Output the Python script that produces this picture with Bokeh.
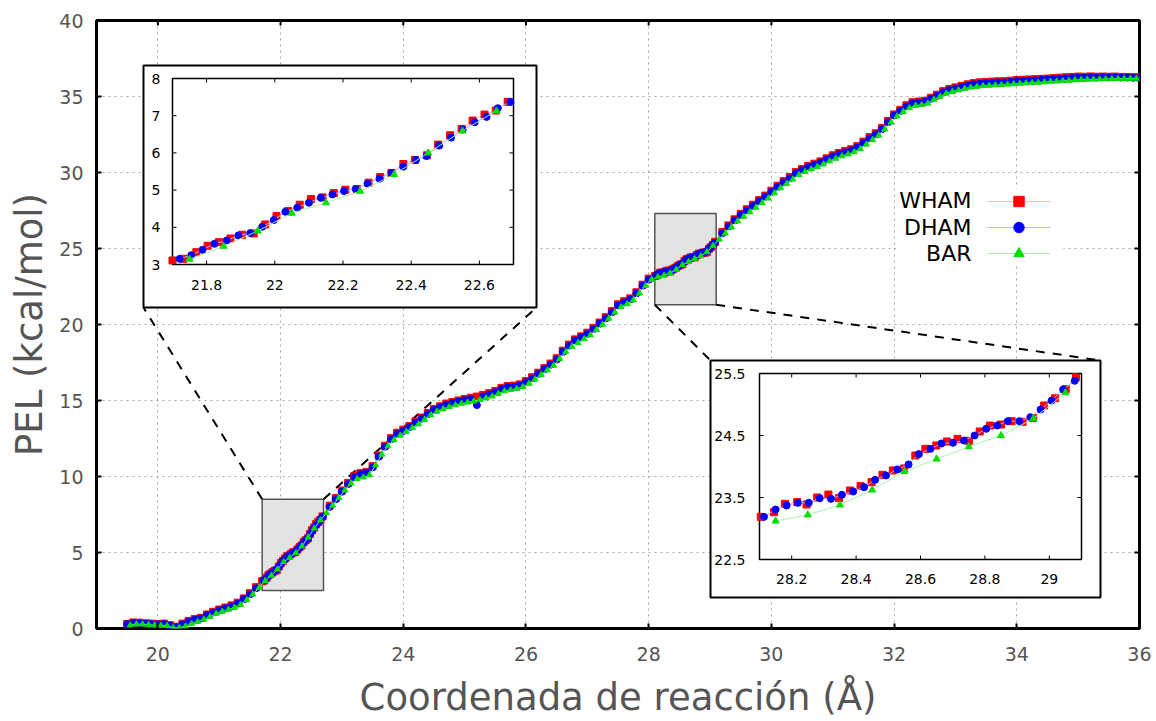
import numpy as np
from bokeh.plotting import figure
from bokeh.models import Range1d, FixedTicker, Legend, LegendItem, Label
from bokeh.core.properties import value
from bokeh.embed import file_html
from bokeh.resources import INLINE

FONT = "DejaVu Sans"

# ------------------------------------------------------------------ data
X_TICKS = [20, 22, 24, 26, 28, 30, 32, 34, 36]
Y_TICKS = [0, 5, 10, 15, 20, 25, 30, 35, 40]

# coarse x grid (outside the two zoomed windows) for WHAM and DHAM
COARSE_X = np.round(np.concatenate([np.arange(19.5, 21.65, 0.1),
                                    np.arange(22.8, 28.05, 0.1),
                                    np.arange(29.2, 36.05, 0.1)]), 2)

WHAM_COARSE = [
    0.30, 0.40, 0.38, 0.34, 0.32, 0.30, 0.32, 0.22, 0.12, 0.32, 0.50, 0.62, 0.70, 0.92, 1.10, 1.25,
    1.38, 1.52, 1.70, 1.98, 2.32, 2.72,
    8.08, 8.58, 9.08, 9.58, 10.02, 10.22, 10.30, 10.68, 11.38, 12.02, 12.52, 12.88, 13.08, 13.32,
    13.62, 13.88, 14.18, 14.45, 14.62, 14.80, 14.90, 15.00, 15.10, 15.18, 15.26, 15.36, 15.48,
    15.63, 15.83, 15.95, 15.98, 16.06, 16.28, 16.53, 16.83, 17.13, 17.43, 17.78, 18.28, 18.68,
    19.02, 19.22, 19.46, 19.78, 20.13, 20.48, 20.88, 21.33, 21.53, 21.72, 22.12, 22.62, 23.02,
    26.08, 26.52, 26.92, 27.28, 27.58, 27.88, 28.18, 28.48, 28.80, 29.13, 29.43, 29.70, 30.03,
    30.23, 30.43, 30.58, 30.73, 30.93, 31.13, 31.28, 31.41, 31.53, 31.73, 32.03, 32.33, 32.58,
    32.93, 33.38, 33.82, 34.12, 34.42, 34.62, 34.67, 34.72, 34.92, 35.12, 35.35, 35.50, 35.60,
    35.70, 35.80, 35.88, 35.93, 35.96, 35.98, 36.00, 36.01, 36.04, 36.08, 36.10, 36.12, 36.14,
    36.16, 36.18, 36.21, 36.24, 36.26, 36.28, 36.31, 36.30, 36.32, 36.30, 36.31, 36.30, 36.31,
    36.29, 36.28, 36.27, 36.26,
]
DHAM_COARSE = [
    0.28, 0.36, 0.35, 0.32, 0.30, 0.28, 0.30, 0.18, 0.08, 0.28, 0.45, 0.58, 0.66, 0.88, 1.05, 1.20,
    1.33, 1.46, 1.64, 1.92, 2.25, 2.65,
    8.00, 8.50, 9.00, 9.50, 9.95, 10.15, 10.25, 10.60, 11.30, 11.95, 12.45, 12.80, 13.00, 13.25,
    13.55, 13.80, 14.10, 14.38, 14.55, 14.72, 14.83, 14.93, 15.02, 15.10, 14.70, 15.27, 15.40,
    15.55, 15.75, 15.88, 15.90, 15.98, 16.20, 16.45, 16.75, 17.05, 17.35, 17.70, 18.20, 18.60,
    18.95, 19.15, 19.38, 19.70, 20.05, 20.40, 20.80, 21.25, 21.45, 21.65, 22.05, 22.55, 22.95,
    26.00, 26.45, 26.85, 27.20, 27.50, 27.80, 28.10, 28.40, 28.72, 29.05, 29.35, 29.62, 29.95,
    30.15, 30.35, 30.50, 30.65, 30.85, 31.05, 31.20, 31.33, 31.45, 31.65, 31.95, 32.25, 32.50,
    32.85, 33.30, 33.75, 34.05, 34.35, 34.55, 34.60, 34.65, 34.85, 35.05, 35.28, 35.42, 35.52,
    35.62, 35.72, 35.80, 35.85, 35.88, 35.90, 35.92, 35.93, 35.96, 36.00, 36.03, 36.05, 36.07,
    36.10, 36.12, 36.15, 36.18, 36.20, 36.22, 36.25, 36.25, 36.27, 36.25, 36.27, 36.26, 36.27,
    36.25, 36.25, 36.24, 36.24,
]

# detailed points inside zoom window 1 (21.7 - 22.7)
WHAM_Z1_X = [21.700, 21.732, 21.770, 21.803, 21.836, 21.870, 21.904, 21.938, 21.972, 22.005,
             22.039, 22.073, 22.106, 22.140, 22.173, 22.207, 22.241, 22.275, 22.309, 22.342,
             22.377, 22.411, 22.446, 22.479, 22.514, 22.548, 22.580, 22.615, 22.648, 22.683]
WHAM_Z1_Y = [3.108, 3.153, 3.332, 3.503, 3.601, 3.700, 3.799, 3.835, 4.077, 4.302,
             4.436, 4.607, 4.759, 4.804, 4.921, 5.011, 5.029, 5.199, 5.352, 5.460,
             5.702, 5.810, 5.935, 6.223, 6.474, 6.645, 6.869, 7.031, 7.138, 7.372]
DHAM_Z1_X = [21.721, 21.755, 21.788, 21.823, 21.859, 21.893, 21.928, 21.963, 21.997, 22.031,
             22.066, 22.100, 22.135, 22.169, 22.203, 22.237, 22.272, 22.307, 22.342, 22.377,
             22.414, 22.445, 22.482, 22.517, 22.551, 22.586, 22.621, 22.654, 22.691]
DHAM_Z1_Y = [3.153, 3.251, 3.395, 3.557, 3.646, 3.781, 3.844, 4.014, 4.194, 4.418,
             4.526, 4.661, 4.795, 4.885, 4.975, 5.029, 5.172, 5.307, 5.460, 5.630,
             5.810, 5.917, 6.196, 6.411, 6.627, 6.824, 6.968, 7.201, 7.372]

# detailed points inside zoom window 2 (28.1 - 29.1)
WHAM_Z2_X = [28.104, 28.145, 28.179, 28.217, 28.246, 28.279, 28.314, 28.347, 28.381, 28.414,
             28.448, 28.482, 28.514, 28.549, 28.584, 28.615, 28.649, 28.682, 28.715, 28.750,
             28.784, 28.816, 28.850, 28.883, 28.917, 28.950, 28.984, 29.018, 29.051, 29.083]
WHAM_Z2_Y = [23.188, 23.263, 23.398, 23.425, 23.387, 23.500, 23.548, 23.489, 23.613, 23.683,
             23.747, 23.866, 23.936, 23.968, 24.177, 24.285, 24.339, 24.403, 24.446, 24.414,
             24.565, 24.661, 24.677, 24.731, 24.720, 24.780, 24.984, 25.102, 25.247, 25.441]
DHAM_Z2_X = [28.114, 28.150, 28.184, 28.219, 28.253, 28.287, 28.322, 28.356, 28.391, 28.425,
             28.459, 28.493, 28.528, 28.563, 28.595, 28.631, 28.665, 28.701, 28.735, 28.768,
             28.804, 28.838, 28.871, 28.907, 28.941, 28.973, 29.007, 29.043, 29.079]
DHAM_Z2_Y = [23.188, 23.306, 23.371, 23.414, 23.414, 23.489, 23.478, 23.543, 23.597, 23.667,
             23.785, 23.855, 23.952, 24.033, 24.200, 24.285, 24.371, 24.382, 24.419, 24.500,
             24.608, 24.661, 24.731, 24.731, 24.796, 24.919, 25.065, 25.242, 25.382]

# BAR: one point every 0.1 A, 19.55 ... 35.95
BAR_X = np.round(np.arange(19.55, 35.96, 0.1), 2)
BAR_Y = [
    0.22, 0.28, 0.28, 0.25, 0.22,
    0.20, 0.18, 0.05, 0.05, 0.15, 0.32, 0.45, 0.60, 0.78, 0.98,
    1.12, 1.25, 1.38, 1.58, 1.88, 2.25, 2.68, 3.14, 3.49, 3.90,
    4.38, 4.66, 4.97, 5.42, 6.00, 6.59, 7.13, 7.60, 8.10, 8.60,
    9.10, 9.55, 9.85, 9.95, 10.10, 10.75, 11.45, 12.00, 12.40, 12.70,
    12.95, 13.20, 13.45, 13.75, 14.05, 14.28, 14.45, 14.58, 14.70, 14.80,
    14.88, 14.95, 15.05, 15.15, 15.28, 15.45, 15.62, 15.70, 15.78, 15.90,
    16.12, 16.40, 16.70, 17.00, 17.30, 17.75, 18.20, 18.55, 18.80, 19.05,
    19.30, 19.65, 20.00, 20.40, 20.80, 21.15, 21.35, 21.60, 22.05, 22.55,
    22.95, 23.12, 23.22, 23.38, 23.62, 23.92, 24.12, 24.32, 24.50, 24.77,
    25.19, 25.60, 26.00, 26.40, 26.80, 27.10, 27.40, 27.70, 28.00, 28.30,
    28.65, 28.98, 29.28, 29.55, 29.85, 30.05, 30.22, 30.38, 30.55, 30.75,
    30.92, 31.08, 31.20, 31.35, 31.55, 31.85, 32.15, 32.45, 32.85, 33.30,
    33.70, 34.00, 34.25, 34.40, 34.45, 34.55, 34.80, 35.00, 35.20, 35.32,
    35.42, 35.52, 35.60, 35.65, 35.70, 35.72, 35.75, 35.77, 35.80, 35.82,
    35.85, 35.88, 35.90, 35.92, 35.95, 35.98, 36.00, 36.03, 36.05, 36.08,
    36.10, 36.12, 36.13, 36.14, 36.15, 36.16, 36.17, 36.17, 36.18, 36.18,
]

SERIES = ["WHAM", "DHAM", "BAR"]
INSET1_XTICKS = [21.8, 22.0, 22.2, 22.4, 22.6]
INSET1_XLABELS = ["21.8", "22", "22.2", "22.4", "22.6"]
INSET1_YTICKS = [3, 4, 5, 6, 7, 8]
INSET1_YLABELS = ["3", "4", "5", "6", "7", "8"]
INSET2_XTICKS = [28.2, 28.4, 28.6, 28.8, 29.0]
INSET2_XLABELS = ["28.2", "28.4", "28.6", "28.8", "29"]
INSET2_YTICKS = [22.5, 23.5, 24.5, 25.5]
INSET2_YLABELS = ["22.5", "23.5", "24.5", "25.5"]

assert len(WHAM_COARSE) == len(COARSE_X) == len(DHAM_COARSE)
assert len(BAR_Y) == len(BAR_X)

# ------------------------------------------------------------------ styles / layout
MARK = {"WHAM": ("square", "#ff0000", "#ffb4b4"),
        "DHAM": ("circle", "#0000ff", "#b4b4ff"),
        "BAR": ("triangle", "#00e000", "#aaf0aa")}

FRAME_L, FRAME_T, FRAME_W, FRAME_H = 96, 20, 1043, 608
XR, YR = (19, 36), (0, 40)
BOX1 = (21.7, 22.7, 2.5, 8.5)
BOX2 = (28.1, 29.1, 21.3, 27.3)
# inset boxes in page pixels: outer (l, t, r, b) and frame (l, t, r, b)
INSET1 = dict(outer=(143, 65, 536, 307), frame=(172, 78, 513, 264))
INSET2 = dict(outer=(710, 360, 1100, 597), frame=(759, 373, 1081, 559))


def px2data(px, py):
    x = XR[0] + (px - FRAME_L) * (XR[1] - XR[0]) / FRAME_W
    y = YR[0] + (FRAME_T + FRAME_H - py) * (YR[1] - YR[0]) / FRAME_H
    return x, y


def merged(cx, cy, *segs):
    x = np.concatenate([np.asarray(cx, float)] + [np.asarray(s[0], float) for s in segs])
    y = np.concatenate([np.asarray(cy, float)] + [np.asarray(s[1], float) for s in segs])
    o = np.argsort(x)
    return x[o], y[o]


def draw(api, name, xs, ys, size):
    marker, col, lcol = MARK[name]
    lr = api.line(xs, ys, line_color=lcol, line_width=1)
    sr = api.scatter(xs, ys, marker=marker, size=size, fill_color=col, line_color=col)
    return [lr, sr]


# ------------------------------------------------------------------ main figure
p = figure(frame_width=FRAME_W, frame_height=FRAME_H, x_range=Range1d(*XR), y_range=Range1d(*YR),
           output_backend="svg", toolbar_location=None,
           min_border_left=FRAME_L, min_border_top=FRAME_T,
           min_border_right=12, min_border_bottom=90,
           background_fill_color="white", border_fill_color="white")
p.outline_line_color = "black"
p.outline_line_width = 3

p.xaxis.ticker = FixedTicker(ticks=X_TICKS)
p.yaxis.ticker = FixedTicker(ticks=Y_TICKS)
for ax in (p.xaxis[0], p.yaxis[0]):
    ax.major_label_text_font = FONT
    ax.major_label_text_font_size = "19px"
    ax.major_label_text_color = "#555555"
    ax.axis_line_color = None
    ax.major_tick_in = 5
    ax.major_tick_out = 0
    ax.major_tick_line_color = "black"
    ax.major_tick_line_width = 2
    ax.minor_tick_line_color = None
    ax.axis_label_text_font = FONT
    ax.axis_label_text_font_size = "37px"
    ax.axis_label_text_font_style = "normal"
    ax.axis_label_text_color = "#555555"
p.xaxis.axis_label = "Coordenada de reacción (Å)"
p.yaxis.axis_label = "PEL (kcal/mol)"
p.xaxis.major_label_standoff = 18
p.xaxis.axis_label_standoff = 12
p.yaxis.major_label_standoff = 13
p.yaxis.axis_label_standoff = 5

p.xgrid.ticker = FixedTicker(ticks=X_TICKS)
p.ygrid.ticker = FixedTicker(ticks=Y_TICKS)
p.grid.grid_line_color = "#a8a8a8"
p.grid.grid_line_dash = "2 4"
p.grid.grid_line_width = 1

# mirrored inward ticks on the top and right edges
p.ray(x=X_TICKS, y=[YR[1]] * len(X_TICKS), length=5, length_units="screen",
      angle=-np.pi / 2, line_color="black", line_width=2)
p.ray(x=[XR[1]] * len(Y_TICKS), y=Y_TICKS, length=5, length_units="screen",
      angle=np.pi, line_color="black", line_width=2)

# zoom-window highlight boxes
p.quad(left=[BOX1[0], BOX2[0]], right=[BOX1[1], BOX2[1]],
       bottom=[BOX1[2], BOX2[2]], top=[BOX1[3], BOX2[3]],
       fill_color="#e3e3e3", line_color="#555555", line_width=1.5)

# connector lines from highlight boxes to inset boxes
o1, o2 = INSET1["outer"], INSET2["outer"]
c_ends = [px2data(o1[0], o1[3]), px2data(o1[2], o1[3]), px2data(o2[0], o2[1]), px2data(o2[2], o2[1])]
p.segment(x0=[BOX1[0], BOX1[1], BOX2[0], BOX2[1]],
          y0=[BOX1[3], BOX1[3], BOX2[2], BOX2[2]],
          x1=[c[0] for c in c_ends], y1=[c[1] for c in c_ends],
          line_color="black", line_width=2, line_dash="9 8")

# legend background box
lg_l, lg_t = px2data(896, 188)
lg_r, lg_b = px2data(1063, 262)
p.quad(left=[lg_l], right=[lg_r], bottom=[lg_b], top=[lg_t], fill_color="white", line_color=None)

wx, wy = merged(COARSE_X, WHAM_COARSE, (WHAM_Z1_X, WHAM_Z1_Y), (WHAM_Z2_X, WHAM_Z2_Y))
dx, dy = merged(COARSE_X, DHAM_COARSE, (DHAM_Z1_X, DHAM_Z1_Y), (DHAM_Z2_X, DHAM_Z2_Y))
bx, by = np.asarray(BAR_X, float), np.asarray(BAR_Y, float)
rends = {
    "WHAM": draw(p, "WHAM", wx, wy, 7),
    "DHAM": draw(p, "DHAM", dx, dy, 7),
    "BAR": draw(p, "BAR", bx, by, 6),
}

legend = Legend(items=[LegendItem(label=" ", renderers=rends[s]) for s in SERIES],
                location=(987 - FRAME_L, FRAME_T + FRAME_H - 266),
                glyph_width=63, glyph_height=26, label_height=20, spacing=0, padding=0, margin=0,
                label_standoff=0, label_text_font_size="8px",
                background_fill_alpha=0, border_line_color=None)
p.add_layout(legend)
for i, s in enumerate(SERIES):
    p.add_layout(Label(x=971 - FRAME_L, y=FRAME_T + FRAME_H - (200 + 26.5 * i),
                       x_units="screen", y_units="screen", text=s,
                       text_align="right", text_baseline="middle",
                       text_font=FONT, text_font_size="22px", text_color="black"))


# ------------------------------------------------------------------ insets (drawn inside the main plot)
def make_inset(geo, xr, yr, xticks, xlabels, yticks, ylabels, xoff, yoff):
    ol, ot, orr, ob = geo["outer"]
    fl, ft, fr, fb = geo["frame"]
    ox0, oy1 = px2data(ol, ot)
    ox1, oy0 = px2data(orr, ob)
    fx0, fy1 = px2data(fl, ft)
    fx1, fy0 = px2data(fr, fb)
    p.quad(left=[ox0], right=[ox1], bottom=[oy0], top=[oy1],
           fill_color="white", line_color="black", line_width=2)
    p.quad(left=[fx0], right=[fx1], bottom=[fy0], top=[fy1],
           fill_color="white", line_color="black", line_width=1.5)
    sub = p.subplot(x_source=Range1d(*xr), y_source=Range1d(*yr),
                    x_target=Range1d(fx0, fx1), y_target=Range1d(fy0, fy1))
    for name, xs, ys in (("WHAM", wx, wy), ("DHAM", dx, dy), ("BAR", bx, by)):
        m = (xs >= xr[0] - 1e-9) & (xs <= xr[1] + 1e-9)
        draw(sub, name, xs[m], ys[m], 7)
    nx, ny = len(xticks), len(yticks)
    tick = dict(length=4, length_units="screen", line_color="black", line_width=1)
    sub.ray(x=xticks, y=[yr[0]] * nx, angle=np.pi / 2, **tick)
    sub.ray(x=xticks, y=[yr[1]] * nx, angle=-np.pi / 2, **tick)
    sub.ray(x=[xr[0]] * ny, y=yticks, angle=0, **tick)
    sub.ray(x=[xr[1]] * ny, y=yticks, angle=np.pi, **tick)
    txt = dict(text_font=value(FONT), text_font_size="14px", text_color="black")
    sub.text(x=xticks, y=[yr[0]] * nx, text=xlabels, y_offset=xoff,
             text_align="center", text_baseline="top", **txt)
    sub.text(x=[xr[0]] * ny, y=yticks, text=ylabels, x_offset=-yoff,
             text_align="right", text_baseline="middle", **txt)


make_inset(INSET1, (21.7, 22.7), (3, 8), INSET1_XTICKS, INSET1_XLABELS,
           INSET1_YTICKS, INSET1_YLABELS, 15, 12)
make_inset(INSET2, (28.1, 29.1), (22.5, 25.5), INSET2_XTICKS, INSET2_XLABELS,
           INSET2_YTICKS, INSET2_YLABELS, 14, 14)

open("out.html", "w").write(file_html(p, INLINE))
